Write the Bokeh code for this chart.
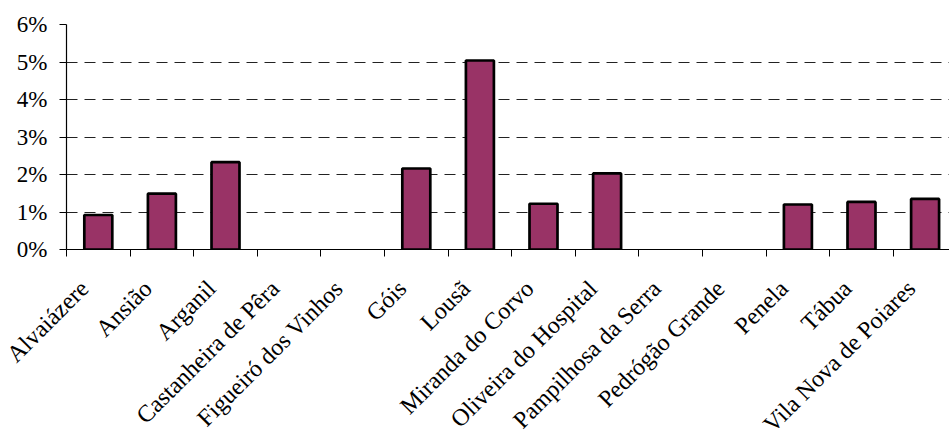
from bokeh.plotting import figure
from bokeh.models import FixedTicker, PrintfTickFormatter, ColumnDataSource, Range1d
from bokeh.embed import file_html
from bokeh.resources import INLINE
import math

categories = ["Alvaiázere", "Ansião", "Arganil", "Castanheira de Pêra", "Figueiró dos Vinhos",
              "Góis", "Lousã", "Miranda do Corvo", "Oliveira do Hospital", "Pampilhosa da Serra",
              "Pedrógão Grande", "Penela", "Tábua", "Vila Nova de Poiares"]
values = [0.92, 1.49, 2.33, 0.0, 0.0, 2.16, 5.04, 1.22, 2.03, 0.0, 0.0, 1.20, 1.27, 1.35]
y_ticks = [0, 1, 2, 3, 4, 5, 6]

n = len(categories)
centers = [i + 0.5 for i in range(n)]
label_pos = [c - 0.22 for c in centers]
bx = [c for c, v in zip(centers, values) if v > 0]
bt = [v for v in values if v > 0]
src = ColumnDataSource(dict(x=bx, top=bt))

FONT = "Liberation Serif"

p = figure(width=949, height=437, output_backend="svg", toolbar_location=None,
           frame_width=883, frame_height=225,
           x_range=Range1d(0, 883 / 63.6), y_range=Range1d(0, 6))
p.min_border_left = 66
p.min_border_top = 24
p.min_border_right = 0
p.min_border_bottom = 188
p.outline_line_color = None
p.background_fill_color = "white"
p.border_fill_color = "white"

p.vbar(x="x", top="top", bottom=0, width=0.44, source=src,
       fill_color="#993366", line_color="black", line_width=2.7)

# x axis
xa = p.xaxis[0]
xa.ticker = FixedTicker(ticks=label_pos, minor_ticks=list(range(n + 1)))
xa.major_label_overrides = {c: name for c, name in zip(label_pos, categories)}
xa.major_tick_out = 0
xa.major_tick_in = 0
xa.minor_tick_out = 7
xa.minor_tick_in = 0
xa.minor_tick_line_color = "black"
xa.axis_line_color = "black"
xa.axis_line_width = 1.2
xa.major_label_orientation = math.pi / 4
xa.major_label_standoff = 28
xa.major_label_text_font = FONT
xa.major_label_text_font_size = "24px"
xa.major_label_text_color = "black"

# y axis
ya = p.yaxis[0]
ya.ticker = FixedTicker(ticks=y_ticks, minor_ticks=[])
ya.formatter = PrintfTickFormatter(format="%d%%")
ya.major_tick_out = 7
ya.major_tick_in = 0
ya.major_tick_line_color = "black"
ya.axis_line_color = "black"
ya.axis_line_width = 1.2
ya.major_label_standoff = 12
ya.major_label_text_font = FONT
ya.major_label_text_font_size = "23px"
ya.major_label_text_color = "black"

p.xgrid.grid_line_color = None
p.ygrid.ticker = FixedTicker(ticks=y_ticks[1:])
p.ygrid.grid_line_color = "#222222"
p.ygrid.grid_line_dash = "11 7"
p.ygrid.grid_line_width = 1

open("out.html", "w").write(file_html(p, INLINE))
